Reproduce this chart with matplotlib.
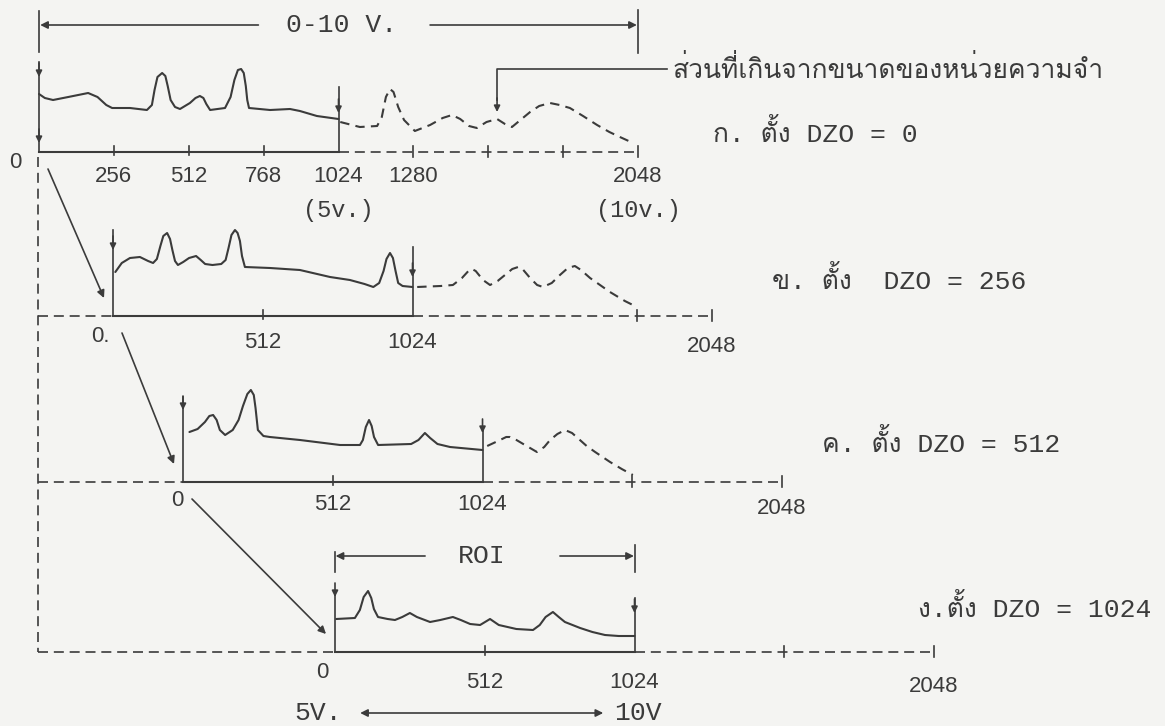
import numpy as np
import matplotlib
matplotlib.use("Agg")
import matplotlib.pyplot as plt
import matplotlib.transforms as mtransforms
from matplotlib import font_manager
from matplotlib.ft2font import FT2Font

# ---------------- data (channel, height above panel baseline) ----------------
DZO_VALUES = [0, 256, 512, 1024]
PANEL_TEXT = ["ก. ตั้ง DZO = 0", "ข. ตั้ง  DZO = 256",
              "ค. ตั้ง DZO = 512", "ง.ตั้ง DZO = 1024"]
OVERFLOW_TEXT = "ส่วนที่เกินจากขนาดของหน่วยความจำ"

a_solid_ch = [0, 20, 48, 100, 168, 200, 230, 250, 311, 369, 386, 395, 405, 421,
              432, 440, 450, 465, 482, 516, 535, 550, 562, 572, 585, 636, 655,
              668, 680, 691, 700, 707, 712, 718, 790, 858, 892, 950, 1024]
a_solid_h = [58, 54, 52, 55, 59, 55, 47, 44, 44, 42, 47, 62, 75, 79,
             76, 66, 52, 45, 43, 49, 54, 56, 54, 48, 42, 44, 55,
             72, 82, 83, 79, 66, 52, 44, 42, 43, 41, 36, 33]
a_dash_ch = [1030, 1097, 1156, 1172, 1186, 1200, 1212, 1228, 1248, 1285, 1337,
             1380, 1412, 1440, 1470, 1497, 1530, 1566, 1593, 1617, 1650, 1679,
             1710, 1747, 1780, 1815, 1860, 1908, 1950, 1986, 2031]
a_dash_h = [30, 25, 26, 35, 55, 63, 60, 45, 32, 21, 27,
            34, 37, 33, 26, 24, 30, 33, 28, 25, 33, 40,
            46, 49, 47, 44, 36, 27, 20, 15, 9]

b_solid_ch = [8, 30, 58, 92, 120, 137, 150, 162, 172, 185, 195, 203, 212, 222,
              240, 260, 284, 300, 315, 340, 370, 385, 395, 405, 417, 426, 434,
              441, 451, 537, 639, 742, 810, 860, 890, 910, 925, 935, 947, 957,
              966, 975, 990, 1024]
b_solid_h = [44, 53, 58, 59, 55, 53, 57, 70, 80, 83, 77, 66, 55, 51,
             54, 58, 60, 56, 52, 51, 52, 56, 68, 81, 86, 83, 75,
             60, 49, 48, 46, 39, 36, 32, 29, 33, 45, 57, 63, 58,
             45, 33, 30, 29]
b_dash_ch = [1040, 1120, 1162, 1193, 1215, 1227, 1240, 1265, 1289, 1315, 1340,
             1365, 1385, 1400, 1426, 1450, 1470, 1500, 1528, 1555, 1579, 1600,
             1631, 1665, 1699, 1750, 1791]
b_dash_h = [29, 30, 31, 38, 45, 47, 45, 36, 31, 35, 41,
            47, 49, 47, 38, 31, 29, 33, 41, 48, 50, 46,
            38, 31, 24, 15, 9]

c_solid_ch = [22, 50, 75, 90, 103, 115, 126, 144, 170, 190, 205, 220, 232, 242,
              248, 256, 275, 297, 400, 537, 605, 615, 625, 636, 645, 653, 667,
              780, 805, 827, 845, 870, 913, 1024]
c_solid_h = [50, 53, 60, 66, 67, 62, 52, 47, 52, 62, 76, 88, 92, 87,
             74, 52, 46, 45, 42, 37, 37, 42, 55, 62, 56, 45, 37,
             38, 42, 49, 44, 38, 35, 32]
c_dash_ch = [1040, 1084, 1105, 1118, 1140, 1169, 1210, 1235, 1255, 1280, 1306,
             1330, 1357, 1380, 1409, 1460, 1500, 1538]
c_dash_h = [36, 42, 45, 45, 42, 37, 30, 35, 42, 48, 52,
            49, 42, 36, 30, 20, 13, 7]

d_solid_ch = [4, 68, 85, 98, 113, 124, 133, 147, 180, 205, 230, 256, 280, 325,
              360, 403, 430, 462, 496, 530, 560, 620, 677, 700, 720, 745, 765,
              786, 838, 880, 923, 970, 1024]
d_solid_h = [33, 34, 42, 55, 61, 54, 43, 35, 33, 32, 35, 39, 35, 30,
             32, 35, 32, 28, 27, 33, 27, 23, 22, 27, 35, 40, 35,
             30, 24, 20, 17, 16, 16]

SOLID_CH = [a_solid_ch, b_solid_ch, c_solid_ch, d_solid_ch]
SOLID_H = [a_solid_h, b_solid_h, c_solid_h, d_solid_h]
DASH_CH = [a_dash_ch, b_dash_ch, c_dash_ch, None]
DASH_H = [a_dash_h, b_dash_h, c_dash_h, None]

# axis ticks of each panel (solid part / dashed part)
SOLID_TICKS = [[256, 512, 768], [512], [512], [512]]
DASH_TICKS = [[1280, 1536, 1792], [1792], [1536], [1536]]
TICK_LABELS = [[256, 512, 768, 1024, 1280, 2048], [512, 1024, 2048],
               [512, 1024, 2048], [512, 1024, 2048]]
ZERO_LABELS = ["0", "0.", "0", "0"]

# ---------------- layout (pixels of the page) ----------------
W, H = 1165, 726
S = 0.2925                        # px per channel
ORIGIN_X = [39, 113, 183, 335]
BASE_Y = [152, 316, 482, 652]
LABEL_DY = [25, 27, 23, 30]
ZERO_POS = [(-24, -10), (-13, -21), (-6, -18), (-13, -21)]
TEXT_POS = [(713, 133), (772, 280), (822, 443), (918, 608)]
# vertical markers: (channel, top height, arrow tip heights)
VERTS = [[(0, 90, [75, 9]), (1024, 65, [39])],
         [(0, 86, [66]), (1024, 69, [39])],
         [(0, 85, [72]), (1024, 55, [49])],
         [(0, 59, [55]), (1024, 54, [39])]]
FRAME_X = 38

INK = "#3b3b3b"
PAPER = "#f4f4f2"

# fonts: find something that can draw Thai
thai_family = None
for f in font_manager.fontManager.ttflist:
    try:
        if ord("ก") in FT2Font(f.fname).get_charmap():
            thai_family = f.name
            break
    except Exception:
        pass
MONO = ["Liberation Mono"] + ([thai_family] if thai_family else []) + ["DejaVu Sans"]
SANS = ["Liberation Sans", "DejaVu Sans"]

fig = plt.figure(figsize=(W / 100, H / 100), dpi=100, facecolor=PAPER)
ax = fig.add_axes([0, 0, 1, 1])
ax.set_xlim(0, W)
ax.set_ylim(H, 0)
ax.axis("off")
ax.set_facecolor(PAPER)

LW = 1.2
DASH = (0, (4.5, 3.0))
AXDASH = (0, (6.0, 3.5))
TICK_FS = 16
BIG_FS = 19


def panel_tf(i):
    return mtransforms.Affine2D().scale(S, -1).translate(ORIGIN_X[i], BASE_Y[i]) + ax.transData


def arrowhead(tf, ch, h):
    ax.annotate("", xy=(ch, h), xytext=(ch, h + 14), xycoords=tf, textcoords=tf,
                arrowprops=dict(arrowstyle="-|>", lw=LW, color=INK,
                                mutation_scale=9, shrinkA=0, shrinkB=0))


def hline_arrow(tf, x_from, x_to, h, style="-|>"):
    ax.annotate("", xy=(x_to, h), xytext=(x_from, h), xycoords=tf, textcoords=tf,
                arrowprops=dict(arrowstyle=style, lw=LW, color=INK, mutation_scale=11,
                                shrinkA=0, shrinkB=0))


for i in range(4):
    tf = panel_tf(i)
    # spectrum
    ax.plot(SOLID_CH[i], SOLID_H[i], color=INK, lw=LW + 0.3, transform=tf,
            solid_joinstyle="round", solid_capstyle="round")
    if DASH_CH[i] is not None:
        ax.plot(DASH_CH[i], DASH_H[i], color=INK, lw=LW + 0.3, ls=DASH, transform=tf,
                dash_joinstyle="round")
    # axis line
    ax.plot([0, 1024], [0, 0], color=INK, lw=LW + 0.3, transform=tf)
    ax.plot([1024, 2048], [0, 0], color=INK, lw=LW, ls=AXDASH, transform=tf)
    for t in SOLID_TICKS[i]:
        ax.plot([t, t], [-3, 6], color=INK, lw=LW, transform=tf)
    for t in DASH_TICKS[i] + [2048]:
        ax.plot([t, t], [-5, 6], color=INK, lw=LW, transform=tf)
    # verticals with arrows
    for ch, top, tips in VERTS[i]:
        ax.plot([ch, ch], [0, top], color=INK, lw=LW, transform=tf)
        for tip in tips:
            arrowhead(tf, ch, tip)
    # tick labels
    for v in TICK_LABELS[i]:
        dy = LABEL_DY[i] + (4 if v == 2048 and i > 0 else 0)
        ax.text(v, -dy, str(v), transform=tf, ha="center", va="center",
                fontsize=TICK_FS, family=SANS, color=INK)
    zx, zy = ZERO_POS[i]
    ax.text(zx / S, zy, ZERO_LABELS[i], transform=tf, ha="center", va="center",
            fontsize=TICK_FS, family=SANS, color=INK)
    # right hand caption
    ax.text(TEXT_POS[i][0], TEXT_POS[i][1], PANEL_TEXT[i], ha="left", va="center",
            fontsize=BIG_FS, family=MONO, color=INK)
    # dashed frame link to the left
    if i > 0:
        ax.plot([FRAME_X, ORIGIN_X[i]], [BASE_Y[i], BASE_Y[i]], color=INK, lw=LW, ls=AXDASH)
        ax.annotate("", xy=(ORIGIN_X[i] - 9, BASE_Y[i] - 18),
                    xytext=(ORIGIN_X[i - 1] + 9, BASE_Y[i - 1] + 17),
                    arrowprops=dict(arrowstyle="-|>", lw=LW, color=INK,
                                    mutation_scale=11, shrinkA=0, shrinkB=0))

ax.plot([FRAME_X, FRAME_X], [BASE_Y[0] + 5, BASE_Y[3]], color=INK, lw=LW, ls=AXDASH)

# panel A extras: "(5v.)", "(10v.)", top 0-10 V bracket, overflow pointer
tfa = panel_tf(0)
ax.text(1024, -59, "(5v.)", transform=tfa, ha="center", va="center",
        fontsize=17, family=MONO, color=INK)
ax.text(2048, -59, "(10v.)", transform=tfa, ha="center", va="center",
        fontsize=17, family=MONO, color=INK)
ax.plot([0, 0], [100, 141], color=INK, lw=LW, transform=tfa)
ax.plot([2048, 2048], [99, 142], color=INK, lw=LW, transform=tfa)
hline_arrow(tfa, 750, 4, 127)
hline_arrow(tfa, 1337, 2044, 127)
ax.text(1036, 127, "0-10 V.", transform=tfa, ha="center", va="center",
        fontsize=BIG_FS, family=MONO, color=INK)
ax.plot([2147, 1566, 1566], [83, 83, 52], color=INK, lw=LW, transform=tfa)
arrowhead(tfa, 1566, 40)
ax.text(2164, 83, OVERFLOW_TEXT, transform=tfa, ha="left", va="center",
        fontsize=19, family=MONO, color=INK)

# panel D extras: ROI bracket and 5V - 10V
tfd = panel_tf(3)
ax.plot([0, 0], [80, 100], color=INK, lw=LW, transform=tfd)
ax.plot([1024, 1024], [80, 107], color=INK, lw=LW, transform=tfd)
hline_arrow(tfd, 308, 2, 96)
hline_arrow(tfd, 769, 1022, 96)
ax.text(500, 96, "ROI", transform=tfd, ha="center", va="center",
        fontsize=BIG_FS, family=MONO, color=INK)
hline_arrow(tfd, 917, 86, -61, style="<|-|>")
ax.text(-58, -61, "5V.", transform=tfd, ha="center", va="center",
        fontsize=BIG_FS, family=MONO, color=INK)
ax.text(1036, -61, "10V", transform=tfd, ha="center", va="center",
        fontsize=BIG_FS, family=MONO, color=INK)

fig.savefig("out.png", dpi=100, facecolor=PAPER)
